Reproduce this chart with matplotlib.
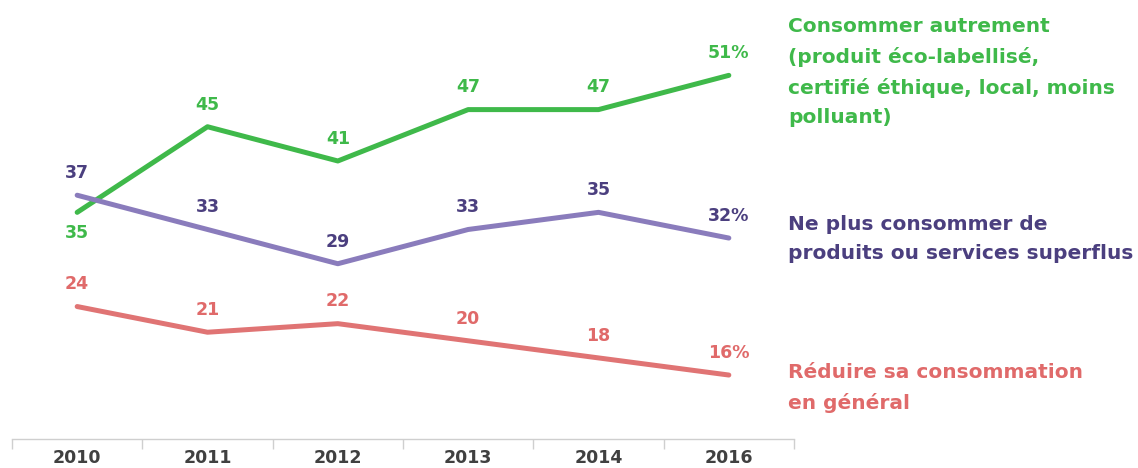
import matplotlib
matplotlib.use("Agg")
import matplotlib.pyplot as plt

years = ["2010", "2011", "2012", "2013", "2014", "2016"]
autrement = [35, 45, 41, 47, 47, 51]
superflus = [37, 33, 29, 33, 35, 32]
reduire = [24, 21, 22, 20, 18, 16]

green, green_txt = "#3fb94a", "#3fb94a"
purple, purple_txt = "#8a7cbc", "#4b3f7f"
red, red_txt = "#e07474", "#e06a6a"

W, H = 1138, 468
fig = plt.figure(figsize=(W / 100, H / 100), dpi=100)
ax = fig.add_axes([12 / W, 29 / H, 782 / W, 439 / H])

x = list(range(len(years)))
series = [
    (autrement, green, green_txt),
    (superflus, purple, purple_txt),
    (reduire, red, red_txt),
]
for vals, lc, tc in series:
    ax.plot(x, vals, color=lc, lw=3.6, solid_capstyle="round", solid_joinstyle="round")
    for i, v in enumerate(vals):
        label = f"{v}%" if i == len(vals) - 1 else str(v)
        dy = 16
        if vals is autrement and i == 0:
            dy = -15
        ax.annotate(label, (i, v), xytext=(0, dy), textcoords="offset points",
                    ha="center", va="center", color=tc, fontsize=12.5, fontweight="bold")

ax.set_xlim(-0.5, 5.5)
ax.set_ylim(8.53, 59.8)
ax.set_yticks([])
ax.set_xticks([i - 0.5 for i in range(len(years) + 1)], minor=False)
ax.set_xticklabels([])
ax.set_xticks(x, minor=True)
ax.set_xticklabels(years, minor=True, fontsize=12.5, fontweight="bold", color="#404040")
ax.tick_params(axis="x", which="major", length=7, color="#cfcfcf", width=1)
ax.tick_params(axis="x", which="minor", length=0, pad=7)
for s in ["top", "right", "left"]:
    ax.spines[s].set_visible(False)
ax.spines["bottom"].set_color("#cfcfcf")
ax.spines["bottom"].set_linewidth(1)

tx = 788 / W
kw = dict(ha="left", va="center", fontsize=14.5, fontweight="bold", linespacing=1.68)
fig.text(tx, 1 - 72 / H, "Consommer autrement\n(produit éco-labellisé,\ncertifié éthique, local, moins\npolluant)",
         color=green_txt, **kw)
fig.text(tx, 1 - 239 / H, "Ne plus consommer de\nproduits ou services superflus",
         color=purple_txt, **kw)
fig.text(tx, 1 - 388 / H, "Réduire sa consommation\nen général",
         color=red_txt, **kw)

fig.savefig("out.png", dpi=100)
